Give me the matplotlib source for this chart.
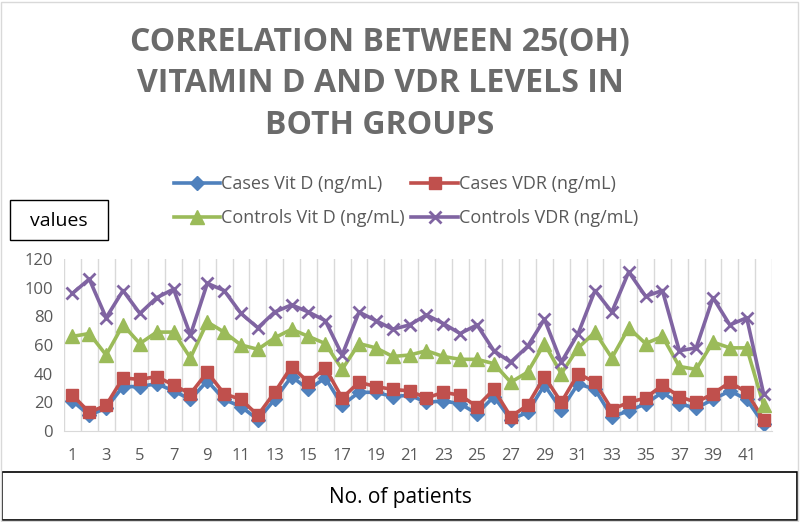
import numpy as np
import matplotlib
matplotlib.use("Agg")
import matplotlib.pyplot as plt
from matplotlib.patches import Rectangle

patients = list(range(1, 43))

cases_vitd = [21, 11, 16, 31, 31, 33, 28, 22, 35, 22, 17, 8, 22, 38, 29, 37, 18, 27, 27, 24,
              25, 20, 21, 19, 12, 24, 8, 13, 32, 15, 33, 29, 10, 14, 19, 27, 19, 16, 22, 28,
              22, 5]
cases_vdr = [25, 13, 18, 37, 36, 38, 32, 26, 41, 26, 22, 11, 27, 45, 34, 44, 23, 34, 31, 29,
             28, 23, 27, 25, 17, 29, 10, 18, 38, 20, 40, 34, 15, 20, 23, 32, 24, 20, 26, 34,
             27, 8]
controls_vitd = [66, 68, 53, 74, 61, 69, 69, 51, 76, 69, 60, 57, 65, 71, 66, 61, 43, 61, 58, 52,
                 53, 56, 52, 50, 50, 47, 34, 41, 61, 40, 58, 69, 51, 72, 61, 66, 45, 43, 62, 58,
                 58, 18]
controls_vdr = [96, 106, 79, 98, 82, 93, 99, 67, 103, 98, 82, 72, 83, 88, 83, 77, 53, 83, 77, 71,
                74, 81, 75, 68, 74, 56, 48, 59, 78, 48, 68, 98, 83, 111, 94, 98, 56, 58, 93, 74,
                79, 26]

series = [
    ("Cases Vit D (ng/mL)", cases_vitd, "#4F81BD", "D", 7),
    ("Cases VDR (ng/mL)", cases_vdr, "#C0504D", "s", 9),
    ("Controls Vit D (ng/mL)", controls_vitd, "#9BBB59", "^", 10),
    ("Controls VDR (ng/mL)", controls_vdr, "#8064A2", "x", 9),
]

plt.rcParams['font.family'] = ['Open Sans', 'DejaVu Sans']
fig = plt.figure(figsize=(8, 5.22), dpi=100)
W, H = 800, 522

ax = fig.add_axes([64 / W, 1 - 431 / H, 708 / W, 172 / H])
handles = []
for name, vals, col, mk, ms in series:
    kw = dict(markeredgewidth=2) if mk == "x" else dict(markeredgecolor=col)
    h, = ax.plot(patients, vals, color=col, lw=2.6, marker=mk, markersize=ms,
                 markerfacecolor=col, label=name, **kw)
    handles.append(h)

ax.set_xlim(0.5, 42.5)
ax.set_ylim(0, 120)
ax.set_yticks(range(0, 121, 20))
ax.set_xticks(range(1, 42, 2))
ax.set_xticks(np.arange(0.5, 43, 1), minor=True)
ax.grid(which="minor", axis="x", color="#D9D9D9", lw=1)
ax.set_axisbelow(True)
ax.tick_params(which="both", length=0, colors="#595959", labelsize=12)
ax.tick_params(axis="x", pad=12)
ax.tick_params(axis="y", pad=8)
for s in ["top", "right", "left"]:
    ax.spines[s].set_visible(False)
ax.spines["bottom"].set_color("#D9D9D9")

title = "CORRELATION BETWEEN 25(OH)\nVITAMIN D AND VDR LEVELS IN\nBOTH GROUPS"
fig.text(380 / W, 1 - 84 / H, title, ha="center", va="center", fontsize=23,
         fontweight="bold", color="#6B6B6B", linespacing=1.34)

# legend filled row by row as in the reference
order = [0, 2, 1, 3]
fig.legend(handles=[handles[i] for i in order], loc="center",
           bbox_to_anchor=(406 / W, 1 - 201 / H), ncol=2, frameon=False, fontsize=13,
           handlelength=2.6, handletextpad=0.05, columnspacing=0.35, labelspacing=0.88,
           labelcolor="#595959", borderpad=0)

fig.patches.append(Rectangle((10 / W, 1 - 240 / H), 98 / W, 40 / H, transform=fig.transFigure,
                             fill=False, edgecolor="black", lw=1))
fig.text(59 / W, 1 - 221 / H, "values", ha="center", va="center", fontsize=14)

fig.patches.append(Rectangle((2 / W, 1 - 520 / H), 795 / W, 48 / H, transform=fig.transFigure,
                             fill=False, edgecolor="black", lw=1.2))
fig.text(400 / W, 1 - 497 / H, "No. of patients", ha="center", va="center", fontsize=15)

fig.patches.append(Rectangle((1 / W, 1 / H), 797 / W, 519 / H, transform=fig.transFigure,
                             fill=False, edgecolor="#D9D9D9", lw=1))

fig.savefig("out.png", dpi=100)
